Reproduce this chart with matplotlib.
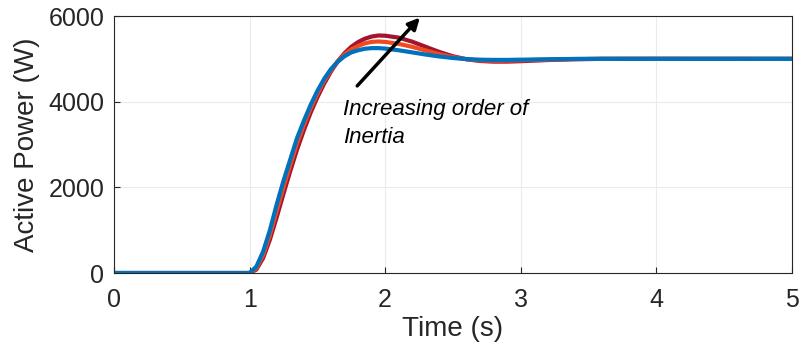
import numpy as np
import matplotlib.pyplot as plt

plt.rcParams['font.family'] = ['Liberation Sans', 'DejaVu Sans']

# time samples (s)
t = [0, 1.0, 1.05, 1.1, 1.15, 1.2, 1.25, 1.3, 1.35, 1.4, 1.45, 1.5, 1.55, 1.6,
     1.65, 1.7, 1.75, 1.8, 1.85, 1.9, 1.95, 2.0, 2.1, 2.2, 2.3, 2.4, 2.5, 2.6,
     2.7, 2.8, 2.9, 3.0, 3.2, 3.4, 3.6, 4.0, 5.0]

# active power (W), lowest to highest inertia
p_low = [0, 0, 150, 500, 1000, 1600, 2150, 2650, 3150, 3550, 3920, 4250, 4530, 4760,
         4930, 5060, 5150, 5200, 5235, 5250, 5250, 5240, 5200, 5150, 5100, 5055, 5020, 4995,
         4980, 4975, 4975, 4980, 4990, 4998, 5000, 5000, 5000]
p_mid = [0, 0, 110, 420, 880, 1450, 2000, 2520, 3020, 3450, 3840, 4180, 4480, 4730,
         4940, 5100, 5220, 5300, 5360, 5395, 5405, 5395, 5350, 5280, 5195, 5110, 5040, 4990,
         4962, 4955, 4958, 4965, 4982, 4995, 5000, 5000, 5000]
p_high = [0, 0, 80, 350, 780, 1300, 1850, 2380, 2880, 3330, 3740, 4100, 4420, 4700,
          4940, 5130, 5280, 5390, 5470, 5520, 5545, 5540, 5495, 5400, 5280, 5160, 5060, 4990,
          4950, 4935, 4935, 4945, 4972, 4990, 5000, 5002, 5000]

fig = plt.figure(figsize=(7.99, 3.54), dpi=100)
ax = fig.add_axes([0.1427, 0.2288, 0.8483, 0.726])

ax.plot(t, p_high, color='#A2142F', lw=3)
ax.plot(t, p_mid, color='#F04A1E', lw=3)
ax.plot(t, p_low, color='#0072BD', lw=3)

ax.set_xlim(0, 5)
ax.set_ylim(0, 6000)
ax.set_xticks([0, 1, 2, 3, 4, 5])
ax.set_yticks([0, 2000, 4000, 6000])
ax.grid(True, color='#ebebeb', lw=0.8)
ax.set_axisbelow(True)
ax.tick_params(direction='in', length=4, labelsize=18, colors='#262626')
ax.tick_params(axis='x', pad=11)
ax.tick_params(axis='y', pad=7)
for s in ax.spines.values():
    s.set_color('#262626')
    s.set_linewidth(0.8)

ax.set_xlabel('Time (s)', fontsize=20, color='#262626', labelpad=3)
ax.set_ylabel('Active Power (W)', fontsize=20, color='#262626', labelpad=6)

ax.annotate('', xy=(2.27, 6010), xytext=(1.78, 4320),
            arrowprops=dict(arrowstyle='-|>', color='black', lw=2.5, mutation_scale=17),
            annotation_clip=False)
ax.text(1.69, 4060, 'Increasing order of\nInertia', fontsize=16, style='italic',
        va='top', ha='left', linespacing=1.45)

fig.savefig('out.png', dpi=100)
